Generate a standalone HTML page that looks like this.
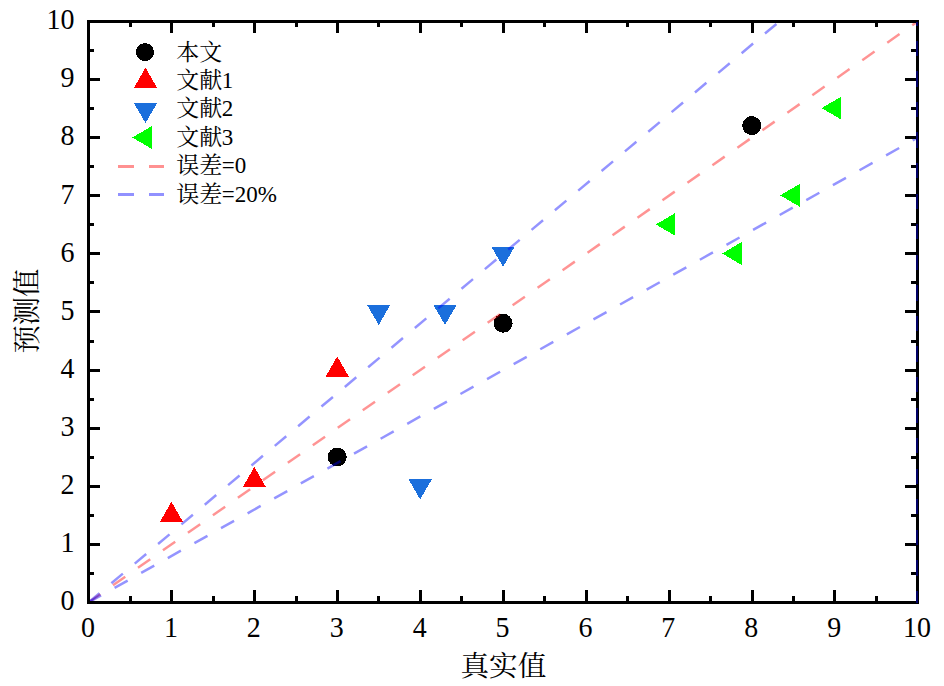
<!DOCTYPE html>
<html><head><meta charset="utf-8"><title>chart</title>
<style>html,body{margin:0;padding:0;background:#fff}svg{display:block}</style></head>
<body>
<svg width="944" height="686" viewBox="0 0 944 686">
<rect width="944" height="686" fill="#fff"/>
<g shape-rendering="crispEdges">
<circle cx="337.25" cy="457.02" r="9.50" fill="#000"/>
<circle cx="503.05" cy="323.28" r="9.50" fill="#000"/>
<circle cx="751.75" cy="125.57" r="9.50" fill="#000"/>
<polygon points="159.95,521.88 182.95,521.88 171.45,501.77" fill="#ff0000"/>
<polygon points="242.85,486.98 265.85,486.98 254.35,466.88" fill="#ff0000"/>
<polygon points="325.75,376.50 348.75,376.50 337.25,356.40" fill="#ff0000"/>
<polygon points="367.10,304.95 390.30,304.95 378.70,324.95" fill="#1b6fdc"/>
<polygon points="433.42,304.95 456.62,304.95 445.02,324.95" fill="#1b6fdc"/>
<polygon points="491.45,246.80 514.65,246.80 503.05,266.80" fill="#1b6fdc"/>
<polygon points="408.55,479.40 431.75,479.40 420.15,499.40" fill="#1b6fdc"/>
<polygon points="675.45,212.93 675.45,235.93 655.85,224.43" fill="#00ff00"/>
<polygon points="741.77,242.00 741.77,265.00 722.17,253.50" fill="#00ff00"/>
<polygon points="799.80,183.85 799.80,206.85 780.20,195.35" fill="#00ff00"/>
<polygon points="841.25,96.62 841.25,119.62 821.65,108.12" fill="#00ff00"/>
<circle cx="145.00" cy="52.10" r="9.00" fill="#000"/>
<polygon points="134.00,87.80 157.00,87.80 145.50,67.70" fill="#ff0000"/>
<polygon points="133.90,103.10 157.10,103.10 145.50,123.10" fill="#1b6fdc"/>
<polygon points="151.90,126.00 151.90,149.00 132.30,137.50" fill="#00ff00"/>
</g>
<defs><clipPath id="c"><rect x="88.5" y="21.5" width="829" height="581"/></clipPath></defs>
<g clip-path="url(#c)" fill="none" stroke-width="2.5" stroke-dashoffset="0.6" stroke-dasharray="15 15.5" stroke-opacity="0.42">
<path d="M88.5 602.5 L917.5 21.5" stroke="#ff0000"/>
<path d="M88.5 602.5 L917.5 -94.7" stroke="#0000ff"/>
<path d="M88.5 602.5 L917.5 137.7" stroke="#0000ff"/>
</g>
<g fill="#000" shape-rendering="crispEdges">
<rect x="87" y="20" width="832" height="3"/><rect x="87" y="601" width="832" height="3"/><rect x="87" y="20" width="3" height="584"/><rect x="916" y="20" width="3" height="584"/>
<rect x="129" y="596" width="3" height="5"/>
<rect x="129" y="23" width="3" height="4"/>
<rect x="90" y="572" width="4" height="3"/>
<rect x="911" y="572" width="5" height="3"/>
<rect x="170" y="590" width="3" height="11"/>
<rect x="170" y="23" width="3" height="10"/>
<rect x="90" y="543" width="10" height="3"/>
<rect x="905" y="543" width="11" height="3"/>
<rect x="212" y="596" width="3" height="5"/>
<rect x="212" y="23" width="3" height="4"/>
<rect x="90" y="514" width="4" height="3"/>
<rect x="911" y="514" width="5" height="3"/>
<rect x="253" y="590" width="3" height="11"/>
<rect x="253" y="23" width="3" height="10"/>
<rect x="90" y="485" width="10" height="3"/>
<rect x="905" y="485" width="11" height="3"/>
<rect x="295" y="596" width="3" height="5"/>
<rect x="295" y="23" width="3" height="4"/>
<rect x="90" y="456" width="4" height="3"/>
<rect x="911" y="456" width="5" height="3"/>
<rect x="336" y="590" width="3" height="11"/>
<rect x="336" y="23" width="3" height="10"/>
<rect x="90" y="427" width="10" height="3"/>
<rect x="905" y="427" width="11" height="3"/>
<rect x="377" y="596" width="3" height="5"/>
<rect x="377" y="23" width="3" height="4"/>
<rect x="90" y="398" width="4" height="3"/>
<rect x="911" y="398" width="5" height="3"/>
<rect x="419" y="590" width="3" height="11"/>
<rect x="419" y="23" width="3" height="10"/>
<rect x="90" y="369" width="10" height="3"/>
<rect x="905" y="369" width="11" height="3"/>
<rect x="460" y="596" width="3" height="5"/>
<rect x="460" y="23" width="3" height="4"/>
<rect x="90" y="340" width="4" height="3"/>
<rect x="911" y="340" width="5" height="3"/>
<rect x="502" y="590" width="3" height="11"/>
<rect x="502" y="23" width="3" height="10"/>
<rect x="90" y="310" width="10" height="3"/>
<rect x="905" y="310" width="11" height="3"/>
<rect x="543" y="596" width="3" height="5"/>
<rect x="543" y="23" width="3" height="4"/>
<rect x="90" y="281" width="4" height="3"/>
<rect x="911" y="281" width="5" height="3"/>
<rect x="585" y="590" width="3" height="11"/>
<rect x="585" y="23" width="3" height="10"/>
<rect x="90" y="252" width="10" height="3"/>
<rect x="905" y="252" width="11" height="3"/>
<rect x="626" y="596" width="3" height="5"/>
<rect x="626" y="23" width="3" height="4"/>
<rect x="90" y="223" width="4" height="3"/>
<rect x="911" y="223" width="5" height="3"/>
<rect x="668" y="590" width="3" height="11"/>
<rect x="668" y="23" width="3" height="10"/>
<rect x="90" y="194" width="10" height="3"/>
<rect x="905" y="194" width="11" height="3"/>
<rect x="709" y="596" width="3" height="5"/>
<rect x="709" y="23" width="3" height="4"/>
<rect x="90" y="165" width="4" height="3"/>
<rect x="911" y="165" width="5" height="3"/>
<rect x="751" y="590" width="3" height="11"/>
<rect x="751" y="23" width="3" height="10"/>
<rect x="90" y="136" width="10" height="3"/>
<rect x="905" y="136" width="11" height="3"/>
<rect x="792" y="596" width="3" height="5"/>
<rect x="792" y="23" width="3" height="4"/>
<rect x="90" y="107" width="4" height="3"/>
<rect x="911" y="107" width="5" height="3"/>
<rect x="833" y="590" width="3" height="11"/>
<rect x="833" y="23" width="3" height="10"/>
<rect x="90" y="78" width="10" height="3"/>
<rect x="905" y="78" width="11" height="3"/>
<rect x="875" y="596" width="3" height="5"/>
<rect x="875" y="23" width="3" height="4"/>
<rect x="90" y="49" width="4" height="3"/>
<rect x="911" y="49" width="5" height="3"/>
</g>
<path d="M917 40.8 V602.5" stroke="#0000ff" stroke-opacity="0.4" stroke-width="2" stroke-dasharray="15.28 15.28" fill="none" shape-rendering="crispEdges"/>
<path d="M917 21.5 V26" stroke="#0000ff" stroke-opacity="0.4" stroke-width="2" fill="none" shape-rendering="crispEdges"/>
<g shape-rendering="crispEdges">
<rect x="118" y="165" width="15.7" height="3" fill="#ff9191"/><rect x="148.5" y="165" width="15.5" height="3" fill="#ff9191"/>
<rect x="118" y="193" width="15.7" height="3" fill="#9191ff"/><rect x="148.5" y="193" width="15.5" height="3" fill="#9191ff"/>
</g>
<g font-family="'Liberation Serif', serif" font-size="28" fill="#000">
<text transform="translate(88.05,636.9) scale(1,1.045)" text-anchor="middle">0</text>
<text transform="translate(74.6,610.20) scale(1,1.045)" text-anchor="end">0</text>
<text transform="translate(170.95,636.9) scale(1,1.045)" text-anchor="middle">1</text>
<text transform="translate(74.6,552.10) scale(1,1.045)" text-anchor="end">1</text>
<text transform="translate(253.85,636.9) scale(1,1.045)" text-anchor="middle">2</text>
<text transform="translate(74.6,494.00) scale(1,1.045)" text-anchor="end">2</text>
<text transform="translate(336.75,636.9) scale(1,1.045)" text-anchor="middle">3</text>
<text transform="translate(74.6,435.90) scale(1,1.045)" text-anchor="end">3</text>
<text transform="translate(419.65,636.9) scale(1,1.045)" text-anchor="middle">4</text>
<text transform="translate(74.6,377.80) scale(1,1.045)" text-anchor="end">4</text>
<text transform="translate(502.55,636.9) scale(1,1.045)" text-anchor="middle">5</text>
<text transform="translate(74.6,319.70) scale(1,1.045)" text-anchor="end">5</text>
<text transform="translate(585.45,636.9) scale(1,1.045)" text-anchor="middle">6</text>
<text transform="translate(74.6,261.60) scale(1,1.045)" text-anchor="end">6</text>
<text transform="translate(668.35,636.9) scale(1,1.045)" text-anchor="middle">7</text>
<text transform="translate(74.6,203.50) scale(1,1.045)" text-anchor="end">7</text>
<text transform="translate(751.25,636.9) scale(1,1.045)" text-anchor="middle">8</text>
<text transform="translate(74.6,145.40) scale(1,1.045)" text-anchor="end">8</text>
<text transform="translate(834.15,636.9) scale(1,1.045)" text-anchor="middle">9</text>
<text transform="translate(74.6,87.30) scale(1,1.045)" text-anchor="end">9</text>
<text transform="translate(917.05,636.9) scale(1,1.045)" text-anchor="middle">10</text>
<text transform="translate(74.6,29.20) scale(1,1.045)" text-anchor="end">10</text>
</g>
<g font-family="'Liberation Serif', serif" font-size="23" fill="#000">
<text x="221.8" y="88.2">1</text><text x="221.8" y="116.4">2</text><text x="221.8" y="144.9">3</text>
<text x="221.8" y="172.6">=0</text><text x="221.8" y="201.8">=20%</text>
</g>
<g fill="#000" font-family="'Liberation Serif', 'Noto Serif CJK SC', serif">
<text x="176.2" y="60.2" font-size="23">本文</text>
<text x="176.2" y="88" font-size="23">文献</text>
<text x="176.2" y="116.2" font-size="23">文献</text>
<text x="176.2" y="145.1" font-size="23">文献</text>
<text x="176.2" y="173" font-size="23">误差</text>
<text x="176.2" y="202.2" font-size="23">误差</text>
<text x="503.4" y="676" font-size="28.6" text-anchor="middle">真实值</text>
<text transform="translate(36.7,353.5) rotate(-90)" font-size="28.3">预测值</text>
</g>
</svg>
</body></html>
